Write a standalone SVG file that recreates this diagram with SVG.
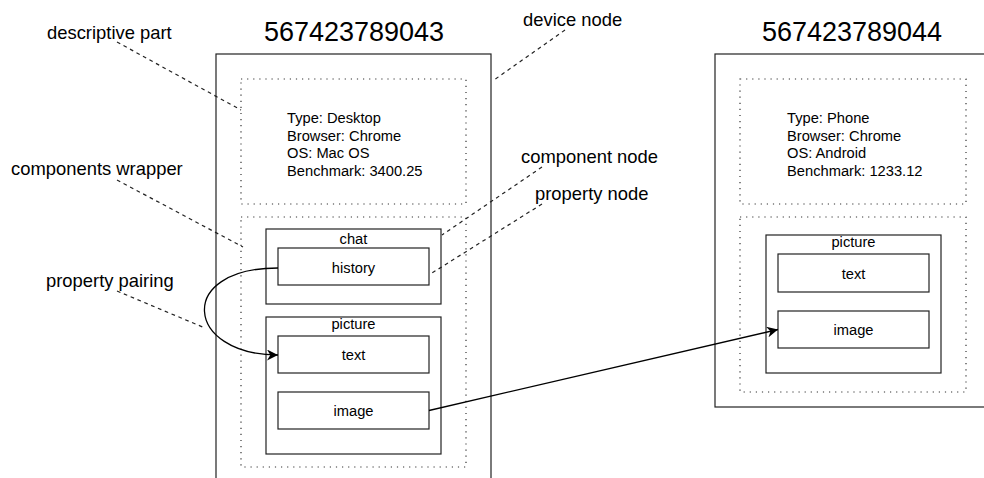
<svg xmlns="http://www.w3.org/2000/svg" width="984" height="478" viewBox="0 0 984 478">
  <style>
    text { font-family: "Liberation Sans", Arial, sans-serif; fill: #000; }
    .title { font-size: 27px; text-anchor: middle; }
    .body { font-size: 14.7px; }
    .label { font-size: 18.4px; }
    .mid { font-size: 14.7px; text-anchor: middle; }
    .box { fill: #fff; stroke: #222; stroke-width: 1.2; }
    .dot { fill: none; stroke: #333; stroke-width: 1.2; stroke-dasharray: 1.2 4.9; }
    .lead { fill: none; stroke: #222; stroke-width: 1.2; stroke-dasharray: 3.7 3.7; }
    .edge { fill: none; stroke: #000; stroke-width: 1.3; }
  </style>
  <defs>
    <marker id="arrow" markerUnits="userSpaceOnUse" markerWidth="11" markerHeight="11" viewBox="0 0 10 10" refX="10" refY="5" orient="auto">
      <path d="M0,0 L10,5 L0,10 L3,5 z" fill="#000"/>
    </marker>
  </defs>
  <rect width="984" height="478" fill="#fff"/>

  <!-- device 567423789043 -->
  <g id="device-1">
    <text class="title" x="354" y="41">567423789043</text>
    <rect class="box" x="216" y="54" width="275" height="440"/>
    <g id="device-1-desc">
      <rect class="dot" x="241" y="79" width="225" height="125"/>
      <text class="body" x="287" y="123">Type: Desktop</text>
      <text class="body" x="287" y="140.5">Browser: Chrome</text>
      <text class="body" x="287" y="158">OS: Mac OS</text>
      <text class="body" x="287" y="175.5">Benchmark: 3400.25</text>
    </g>
    <rect id="device-1-components" class="dot" x="241" y="217" width="225" height="250"/>
    <g id="device-1-chat">
      <rect class="box" x="266" y="229" width="175" height="75"/>
      <text class="mid" x="353.5" y="244">chat</text>
    </g>
    <g id="device-1-chat-history">
      <rect class="box" x="278" y="248" width="151" height="37"/>
      <text class="mid" x="353.5" y="273">history</text>
    </g>
    <g id="device-1-picture">
      <rect class="box" x="266" y="317" width="175" height="137"/>
      <text class="mid" x="353.5" y="329">picture</text>
    </g>
    <g id="device-1-picture-text">
      <rect class="box" x="278" y="336" width="151" height="37"/>
      <text class="mid" x="353.5" y="360">text</text>
    </g>
    <g id="device-1-picture-image">
      <rect class="box" x="278" y="392" width="151" height="37"/>
      <text class="mid" x="353.5" y="416">image</text>
    </g>
  </g>

  <!-- device 567423789044 -->
  <g id="device-2">
    <text class="title" x="852" y="41">567423789044</text>
    <rect class="box" x="715" y="54" width="280" height="353"/>
    <g id="device-2-desc">
      <rect class="dot" x="740" y="79" width="226" height="125"/>
      <text class="body" x="787" y="123">Type: Phone</text>
      <text class="body" x="787" y="140.5">Browser: Chrome</text>
      <text class="body" x="787" y="158">OS: Android</text>
      <text class="body" x="787" y="175.5">Benchmark: 1233.12</text>
    </g>
    <rect id="device-2-components" class="dot" x="740" y="217" width="226" height="175"/>
    <g id="device-2-picture">
      <rect class="box" x="766" y="235" width="175" height="138"/>
      <text class="mid" x="853.5" y="247">picture</text>
    </g>
    <g id="device-2-picture-text">
      <rect class="box" x="778" y="254" width="151" height="38"/>
      <text class="mid" x="853.5" y="279">text</text>
    </g>
    <g id="device-2-picture-image">
      <rect class="box" x="778" y="311" width="151" height="37"/>
      <text class="mid" x="853.5" y="335">image</text>
    </g>
  </g>

  <!-- annotations -->
  <g id="annotations">
    <text class="label" x="47" y="39">descriptive part</text>
    <text class="label" x="11" y="175">components wrapper</text>
    <text class="label" x="46" y="287">property pairing</text>
    <text class="label" x="523" y="26">device node</text>
    <text class="label" x="521" y="163">component node</text>
    <text class="label" x="535" y="200">property node</text>
  </g>

  <!-- connectors -->
  <g id="connectors">
    <path class="lead" d="M117,42 L241,110"/>
    <path class="lead" d="M117,180 L243,247"/>
    <path class="lead" d="M117,291 L205,328"/>
    <path class="lead" d="M565,30 L494,80"/>
    <path class="lead" d="M542,167 L442,235"/>
    <path class="lead" d="M542,204 L432,273"/>
    <path class="edge" d="M278,268 C175,268 185,355 278,355" marker-end="url(#arrow)"/>
    <path class="edge" d="M429,410.5 L778,329.5" marker-end="url(#arrow)"/>
  </g>
</svg>
